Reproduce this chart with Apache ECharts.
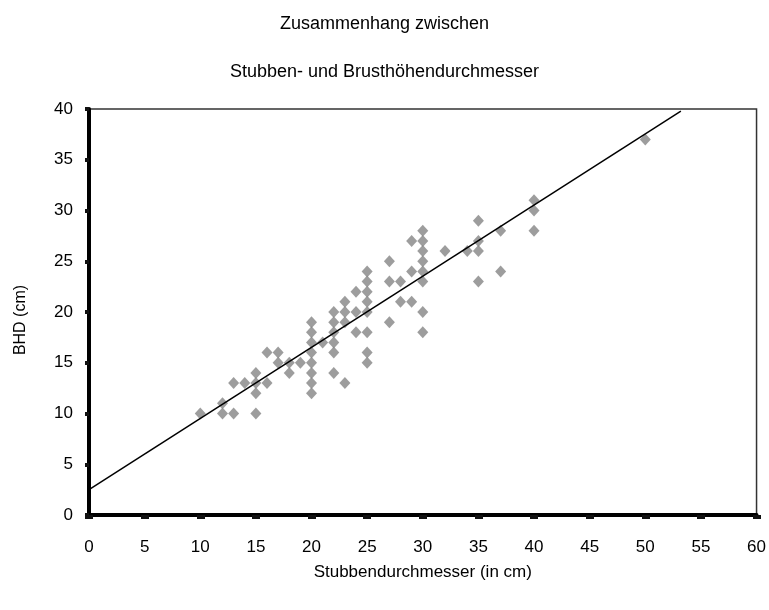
<!DOCTYPE html>
<html>
<head>
<meta charset="utf-8">
<script src="https://cdn.jsdelivr.net/npm/echarts@6/dist/echarts.min.js"></script>
<style>
  html, body { margin: 0; padding: 0; background: #fff; }
  #chart { width: 769px; height: 610px; }
</style>
</head>
<body>
<div id="chart"></div>
<script>
// Stump diameter (cm) of each sampled tree
const stumpDiameter = [
  10,
  12, 12,
  13, 13,
  14,
  15, 15, 15, 15,
  16, 16,
  17, 17,
  18, 18,
  19,
  20, 20, 20, 20, 20, 20, 20, 20,
  21,
  22, 22, 22, 22, 22, 22,
  23, 23, 23, 23,
  24, 24, 24,
  25, 25, 25, 25, 25, 25, 25, 25,
  27, 27, 27,
  28, 28,
  29, 29, 29,
  30, 30, 30, 30, 30, 30, 30, 30,
  32,
  34,
  35, 35, 35, 35,
  37, 37,
  40, 40, 40,
  50
];

// Diameter at breast height (cm), same order
const breastHeightDiameter = [
  10,
  11, 10,
  13, 10,
  13,
  14, 13, 12, 10,
  16, 13,
  16, 15,
  15, 14,
  15,
  19, 18, 17, 16, 15, 14, 13, 12,
  17,
  20, 19, 18, 17, 16, 14,
  21, 20, 19, 13,
  22, 20, 18,
  24, 23, 22, 21, 20, 18, 16, 15,
  25, 23, 19,
  23, 21,
  27, 24, 21,
  28, 27, 26, 25, 24, 23, 20, 18,
  26,
  26,
  29, 27, 26, 23,
  28, 24,
  31, 30, 28,
  37
];

// Fitted regression line endpoints
const trendX = [0, 53.2];
const trendY = [2.5, 39.8];

const xTicks = { min: 0, max: 60, step: 5 };
const yTicks = { min: 0, max: 40, step: 5 };

const points = stumpDiameter.map((x, i) => [x, breastHeightDiameter[i]]);
const trend = trendX.map((x, i) => [x, trendY[i]]);

const font = 'Liberation Sans, Arial, sans-serif';

const chart = echarts.init(document.getElementById('chart'), null, { renderer: 'canvas' });
chart.setOption({
  animation: false,
  backgroundColor: '#ffffff',
  title: {
    text: 'Zusammenhang zwischen\nStubben- und Brusthöhendurchmesser',
    left: 'center',
    top: -5,
    textStyle: {
      fontFamily: font,
      fontSize: 18,
      fontWeight: 'normal',
      color: '#000',
      lineHeight: 48
    }
  },
  grid: {
    left: 89,
    right: 11,
    top: 109,
    bottom: 95,
    show: true,
    borderColor: '#333',
    borderWidth: 1.5,
    backgroundColor: '#fff'
  },
  xAxis: {
    type: 'value',
    min: xTicks.min,
    max: xTicks.max,
    interval: xTicks.step,
    name: 'Stubbendurchmesser (in cm)',
    nameLocation: 'middle',
    nameGap: 49,
    nameTextStyle: { fontFamily: font, fontSize: 17, color: '#000' },
    axisLine: { show: true, onZero: false, lineStyle: { color: '#000', width: 4 } },
    axisTick: { show: true, inside: false, length: 4, lineStyle: { color: '#111', width: 8 } },
    axisLabel: { fontFamily: font, fontSize: 17, color: '#000', margin: 24 },
    splitLine: { show: false }
  },
  yAxis: {
    type: 'value',
    min: yTicks.min,
    max: yTicks.max,
    interval: yTicks.step,
    name: 'BHD (cm)',
    nameLocation: 'middle',
    nameGap: 60,
    nameRotate: 90,
    nameTextStyle: { fontFamily: font, fontSize: 16, color: '#000', padding: [0, 16, 0, 0] },
    axisLine: { show: true, onZero: false, lineStyle: { color: '#000', width: 4 } },
    axisTick: { show: true, inside: false, length: 4, lineStyle: { color: '#111', width: 4 } },
    axisLabel: { fontFamily: font, fontSize: 17, color: '#000', margin: 16 },
    splitLine: { show: false }
  },
  series: [
    {
      type: 'scatter',
      data: points,
      symbol: 'diamond',
      symbolSize: [11, 12],
      itemStyle: { color: '#858585' },
      z: 2
    },
    {
      type: 'line',
      data: trend,
      symbol: 'none',
      lineStyle: { color: '#000', width: 1.5 },
      z: 3
    }
  ]
});
</script>
</body>
</html>
